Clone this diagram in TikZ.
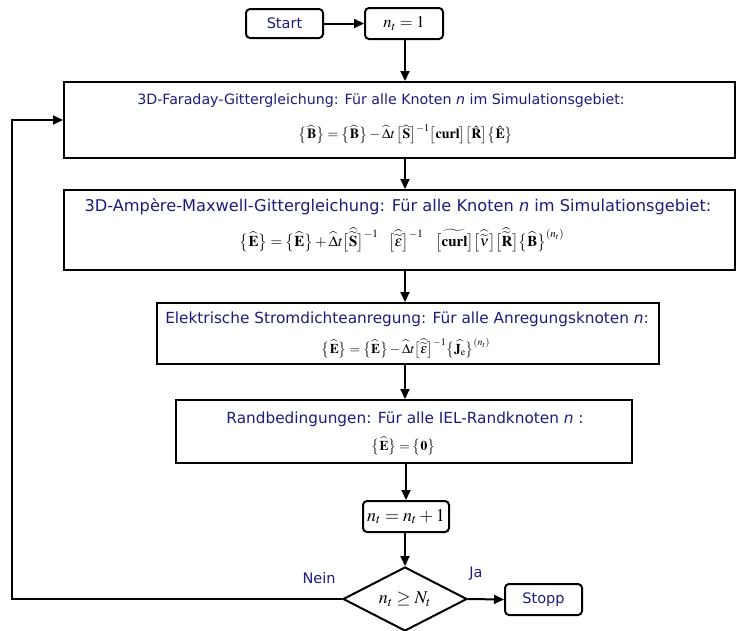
\documentclass[tikz,border=0pt]{standalone}
\usepackage{amsmath}
\usepackage{mathptmx}
\usepackage[no-math]{fontspec}
\setsansfont{DejaVu Sans}
\usetikzlibrary{arrows.meta,shapes.geometric}
\definecolor{labelblue}{RGB}{28,28,125}
\newcommand{\bvec}[1]{\mathbf{#1}}
\newcommand{\lb}{\bigl\{}
\newcommand{\rb}{\bigr\}}
\newcommand{\lk}{\bigl[}
\newcommand{\rk}{\bigr]}
\newcommand{\fsz}[1]{\fontsize{#1}{#1}\selectfont}
\tikzset{
  flow/.style={line width=2pt,-{Triangle[length=10pt,width=9pt]}},
  stepbox/.style={draw,line width=2pt,inner sep=0pt},
  steptext/.style={inner sep=0pt,font=\sffamily,text=labelblue},
  equation/.style={inner sep=0pt,text=black},
  termbox/.style={draw,line width=2pt,rounded corners=4pt,inner sep=0pt,
    font=\sffamily\fsz{14.5},text=labelblue},
  calcbox/.style={draw,line width=2pt,rounded corners=4pt,inner sep=0pt},
  decision/.style={draw,line width=2pt,shape=diamond,inner sep=0pt,aspect=2,
    font=\fsz{18}},
  tag/.style={font=\sffamily\fsz{14.5},text=labelblue}
}
\begin{document}
\begin{tikzpicture}[x=1pt,y=-1pt]
\useasboundingbox (0,0) rectangle (739,630);

% start and initialisation
\node[termbox,minimum width=77pt,minimum height=29pt] (start) at (284.5,23.5) {Start};
\node[calcbox,minimum width=78pt,minimum height=31pt,font=\fsz{16.5}] (init) at (404,23.5) {$n_t=1$};

% Faraday update
\node[stepbox,minimum width=671pt,minimum height=76pt] (faraday) at (399.5,120) {};
\node[steptext,font=\sffamily\fsz{14.2}] (faradaytxt) at (381,101)
  {3D-Faraday-Gittergleichung: Für alle Knoten \textit{n} im Simulationsgebiet:};
\node[equation,font=\fsz{14}] (faradayeq) at (406,134)
  {$\lb\widehat{\bvec B}\rb=\lb\widehat{\bvec B}\rb-\widehat{\Delta}t\,\lk\widehat{\bvec S}\rk^{-1}\lk\bvec{curl}\rk\lk\hat{\bvec R}\rk\lb\hat{\bvec E}\rb$};

% Ampere-Maxwell update
\node[stepbox,minimum width=671pt,minimum height=80pt] (ampere) at (399.5,230) {};
\node[steptext,font=\sffamily\fsz{16.2}] (amperetxt) at (398,207)
  {3D-Ampère-Maxwell-Gittergleichung: Für alle Knoten \textit{n} im Simulationsgebiet:};
\node[equation,font=\fsz{15}] (ampereeq) at (402,239.5)
  {$\lb\widehat{\bvec E}\rb=\lb\widehat{\bvec E}\rb+\widehat{\Delta}t\lk\widehat{\widetilde{\bvec S}}\rk^{-1}\hspace{10pt}\lk\widehat{\widetilde{\boldsymbol\varepsilon}}\rk^{-1}\hspace{12pt}\widetilde{\lk\bvec{curl}\rk}\lk\widehat{\widetilde{\boldsymbol\nu}}\rk\lk\widehat{\widetilde{\bvec R}}\rk\lb\widehat{\bvec B}\rb^{(n_t)}$};

% current density excitation
\node[stepbox,minimum width=502pt,minimum height=61pt] (current) at (408,333.5) {};
\node[steptext,font=\sffamily\fsz{15.3}] (currenttxt) at (407,319.5)
  {Elektrische Stromdichteanregung: Für alle Anregungsknoten \textit{n}:};
\node[equation,font=\fsz{13.5}] (currenteq) at (406,348)
  {$\lb\widehat{\bvec E}\rb=\lb\widehat{\bvec E}\rb-\widehat{\Delta}t\lk\widehat{\widetilde{\boldsymbol\varepsilon}}\rk^{-1}\lb\widehat{\bvec J_{\mathrm e}}\rb^{(n_t)}$};

% boundary conditions
\node[stepbox,minimum width=456pt,minimum height=63pt] (boundary) at (404,431.5) {};
\node[steptext,font=\sffamily\fsz{15.3}] (boundarytxt) at (405,419)
  {Randbedingungen: Für alle IEL-Randknoten \textit{n} :};
\node[equation,font=\fsz{13.5}] (boundaryeq) at (403.5,446)
  {$\lb\widehat{\bvec E}\rb=\lb\bvec 0\rb$};

% time step increment and termination test
\node[calcbox,minimum width=86pt,minimum height=31pt,font=\fsz{18}] (incr) at (406,516.5) {$n_t=n_t+1$};
\node[decision,minimum width=124pt,minimum height=64pt] (check) at (405,599) {$n_t\ge N_t$};
\node[termbox,minimum width=77pt,minimum height=31pt] (stop) at (543.5,599.5) {Stopp};

\node[tag] (yes) at (476,574) {Ja};
\node[tag] (no) at (319,578) {Nein};

% connectors
\draw[flow] (start) -- (init);
\draw[flow] (init.south -| 405,0) -- (faraday.north -| 405,0);
\draw[flow] (faraday.south -| 405,0) -- (ampere.north -| 405,0);
\draw[flow] (ampere.south -| 405,0) -- (current.north -| 405,0);
\draw[flow] (current.south -| 405,0) -- (boundary.north -| 405,0);
\draw[flow] (boundary.south -| 406,0) -- (incr.north -| 406,0);
\draw[flow] (incr.south -| 405,0) -- (check.north);
\draw[flow] (check.east) -- (stop.west);
\coordinate (loop) at (12,599);
\draw[flow] (check.west) -- (loop) |- (faraday.west);
\end{tikzpicture}
\end{document}
